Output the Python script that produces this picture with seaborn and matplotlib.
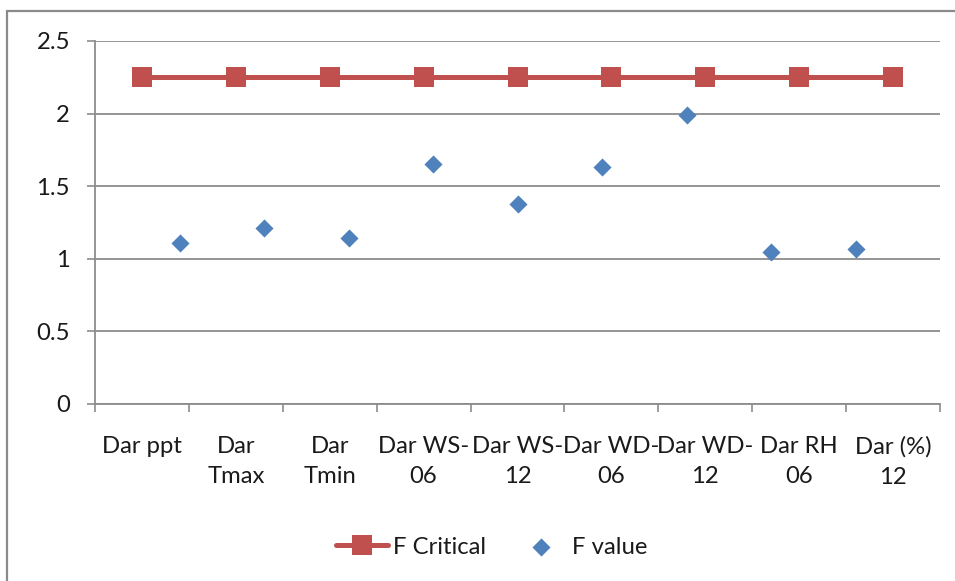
import matplotlib
matplotlib.use("Agg")
import matplotlib.pyplot as plt
from matplotlib.patches import Rectangle
import seaborn as sns
import pandas as pd

categories = ["Dar ppt", "Dar\nTmax", "Dar\nTmin", "Dar WS-\n06", "Dar WS-\n12",
              "Dar WD-\n06", "Dar WD-\n12", "Dar RH\n06", "Dar (%)\n12"]
f_critical = [2.25, 2.25, 2.25, 2.25, 2.25, 2.25, 2.25, 2.25, 2.25]
f_value = [1.11, 1.21, 1.14, 1.65, 1.38, 1.63, 1.99, 1.05, 1.07]
y_ticks = [0, 0.5, 1, 1.5, 2, 2.5]
y_tick_labels = ["0", "0.5", "1", "1.5", "2", "2.5"]

sns.set_theme(style="white")
plt.rcParams["font.family"] = ["Lato", "DejaVu Sans"]
FS = 17.2
RED = "#C0504D"
BLUE = "#4F81BD"
GRID = "#8C8C8C"
TEXT = "#1a1a1a"

fig = plt.figure(figsize=(9.55, 5.81), dpi=100)
fig.patch.set_facecolor("white")

# outer chart frame (only its top and left edges fall inside the canvas)
fig.patches.append(Rectangle((7 / 955, -0.1), 1.2, 0.981 + 0.1, transform=fig.transFigure,
                             fill=False, edgecolor="#8A8A8A", linewidth=1.6, zorder=0))

ax = fig.add_axes([95 / 955, 1 - 404 / 581, (940 - 95) / 955, (404 - 41) / 581])

crit_df = pd.DataFrame({"pos": range(len(categories)), "value": f_critical})
sns.lineplot(data=crit_df, x="pos", y="value", ax=ax, color=RED, linewidth=3.6,
             marker="s", markersize=14, markeredgecolor=RED, markeredgewidth=0,
             label="F Critical", zorder=3)

ax.set_xlim(-0.5, len(categories) - 0.5)
ax.set_ylim(0, 2.5)
ax.set_yticks(y_ticks)
ax.set_yticklabels(y_tick_labels)
ax.set_xlabel("")
ax.set_ylabel("")

# category boundaries carry the tick marks; labels sit centred in each slot
ax.set_xticks([i - 0.5 for i in range(len(categories) + 1)])
ax.set_xticklabels([])
ax.set_xticks(list(range(len(categories))), minor=True)
ax.set_xticklabels(categories, minor=True, fontsize=FS, color=TEXT, linespacing=1.55)
ax.tick_params(axis="x", which="major", length=6, width=1.2, color=GRID, direction="out",
               bottom=True)
ax.tick_params(axis="x", which="minor", length=0, pad=23)
ax.tick_params(axis="y", length=6, width=1.2, color=GRID, direction="out", left=True,
               pad=12, labelsize=FS, labelcolor=TEXT)

ax.yaxis.grid(True, color=GRID, linewidth=1.3)
ax.xaxis.grid(False)
for side in ["top", "right"]:
    ax.spines[side].set_visible(False)
for side in ["left", "bottom"]:
    ax.spines[side].set_color(GRID)
    ax.spines[side].set_linewidth(1.3)

# F values on a secondary numeric x scale running 0..10
ax2 = ax.twiny()
val_df = pd.DataFrame({"x": range(1, len(f_value) + 1), "value": f_value})
sns.scatterplot(data=val_df, x="x", y="value", ax=ax2, color=BLUE, marker="D", s=85,
                edgecolor=BLUE, linewidth=0, label="F value", zorder=4)
ax2.set_xlim(0, 10)
ax2.set_ylim(0, 2.5)
ax2.set_xlabel("")
ax2.set_ylabel("")
ax2.set_xticks([])
for side in ax2.spines:
    ax2.spines[side].set_visible(False)

h1, l1 = ax.get_legend_handles_labels()
h2, l2 = ax2.get_legend_handles_labels()
for a in (ax, ax2):
    if a.get_legend() is not None:
        a.get_legend().remove()

fig.legend(h1 + h2, l1 + l2, loc="center", bbox_to_anchor=(0.515, 1 - 547 / 581), ncol=2,
           frameon=False, fontsize=FS, handlelength=2.2, handletextpad=0.2,
           columnspacing=1.2, labelcolor=TEXT)

fig.savefig("out.png", dpi=100, facecolor="white")
